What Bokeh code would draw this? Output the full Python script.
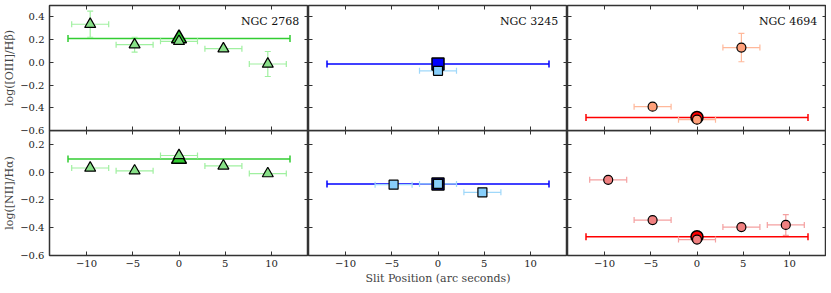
from bokeh.plotting import figure
from bokeh.layouts import gridplot
from bokeh.models import (ColumnDataSource, Whisker, TeeHead, LinearAxis, FixedTicker, Label)
from bokeh.embed import file_html
from bokeh.resources import INLINE

# ---------------- data ----------------
galaxies = ["NGC 2768", "NGC 3245", "NGC 4694"]

x_int = [0.0]
x_int_err = [12.0]
x_slit_err = 2.0

# NGC 2768
n2768_oiii_x = [-9.6, -4.8, 0.0, 4.8, 9.6]
n2768_oiii = [0.335, 0.155, 0.185, 0.12, -0.015]
n2768_oiii_err = [0.115, 0.065, 0.02, 0.015, 0.11]
n2768_nii_x = [-9.6, -4.8, 0.0, 4.8, 9.6]
n2768_nii = [0.03, 0.01, 0.12, 0.045, -0.01]
n2768_nii_err = [0.01, 0.01, 0.01, 0.01, 0.01]
n2768_int_oiii = [0.21]
n2768_int_nii = [0.095]

# NGC 3245
n3245_oiii_x = [0.0]
n3245_oiii = [-0.075]
n3245_oiii_err = [0.015]
n3245_nii_x = [-4.8, 0.0, 4.8]
n3245_nii = [-0.09, -0.085, -0.145]
n3245_nii_err = [0.015, 0.01, 0.02]
n3245_int_oiii = [-0.015]
n3245_int_nii = [-0.085]

# NGC 4694
n4694_oiii_x = [-4.8, 0.0, 4.8]
n4694_oiii = [-0.39, -0.505, 0.13]
n4694_oiii_err = [0.015, 0.015, 0.125]
n4694_nii_x = [-9.6, -4.8, 0.0, 4.8, 9.6]
n4694_nii = [-0.055, -0.345, -0.485, -0.395, -0.38]
n4694_nii_err = [0.015, 0.015, 0.015, 0.015, 0.075]
n4694_int_oiii = [-0.485]
n4694_int_nii = [-0.465]

x_ticks = [-10, -5, 0, 5, 10]
y_ticks_top = [-0.6, -0.4, -0.2, 0.0, 0.2, 0.4]
y_ticks_bot = [-0.6, -0.4, -0.2, 0.0, 0.2]
y_label_top = "log([OIII]/Hβ)"
y_label_bot = "log([NII]/Hα)"
x_label = "Slit Position (arc seconds)"

# ---------------- style ----------------
FONT = "DejaVu Serif"
marker = ["triangle", "square", "circle"]
light_fill = [["#88e088", "#88e088"], ["lightskyblue", "lightskyblue"], ["lightsalmon", "lightcoral"]]
light_err = [["#a0f0a0", "#a0f0a0"], ["#9fd8fa", "#9fd8fa"], ["#ffb89a", "#f4a0a0"]]
dark = ["limegreen", "blue", "red"]
small_size = [11, 9, 9]
big_size = [15, 12, 12]

rows = [
    [(n2768_oiii_x, n2768_oiii, n2768_oiii_err, n2768_int_oiii),
     (n3245_oiii_x, n3245_oiii, n3245_oiii_err, n3245_int_oiii),
     (n4694_oiii_x, n4694_oiii, n4694_oiii_err, n4694_int_oiii)],
    [(n2768_nii_x, n2768_nii, n2768_nii_err, n2768_int_nii),
     (n3245_nii_x, n3245_nii, n3245_nii_err, n3245_int_nii),
     (n4694_nii_x, n4694_nii, n4694_nii_err, n4694_int_nii)],
]
y_ranges = [(-0.6, 0.5), (-0.6, 0.3)]
y_ticks = [y_ticks_top, y_ticks_bot]
y_labels = [y_label_top, y_label_bot]

OVERLAP = 7


def fmt(v, dec):
    s = f"{v:.{dec}f}"
    return s.replace("-", "\u2212")


def style_axis(ax, ticks, dec, show_labels):
    ax.ticker = FixedTicker(ticks=ticks)
    ax.minor_tick_line_color = None
    ax.major_tick_in = 4
    ax.major_tick_out = 0
    ax.major_tick_line_color = "#333333"
    ax.axis_line_color = None
    if show_labels:
        ax.major_label_overrides = {t: fmt(t, dec) for t in ticks}
        ax.major_label_text_font = FONT
        ax.major_label_text_font_size = "10px"
        ax.major_label_text_color = "#222222"
        ax.major_label_standoff = 5
    else:
        ax.major_label_text_font_size = "0px"
        ax.major_label_text_color = None
        ax.major_label_standoff = 0


grid = []
for r in range(2):
    row_figs = []
    for c in range(3):
        p = figure(frame_width=259, frame_height=125, x_range=(-14, 14), y_range=y_ranges[r],
                   output_backend="svg", toolbar_location=None, min_border=0)
        p.min_border_left = 0
        p.min_border_right = 0
        p.min_border_top = 5 if r == 0 else 0
        p.min_border_bottom = OVERLAP if r == 0 else 0
        if r == 1:
            p.styles = {"transform": f"translateY(-{OVERLAP}px)"}
        else:
            p.styles = {"position": "relative", "z-index": "5"}
        p.xgrid.visible = False
        p.ygrid.visible = False
        p.outline_line_color = "#333333"
        p.outline_line_width = 1.5
        p.background_fill_color = "white"
        p.border_fill_color = None

        style_axis(p.xaxis[0], x_ticks, 0, r == 1)
        style_axis(p.yaxis[0], y_ticks[r], 1, c == 0)
        if c == 0:
            p.yaxis[0].axis_label = y_labels[r]
            p.yaxis[0].axis_label_text_font = FONT
            p.yaxis[0].axis_label_text_font_style = "normal"
            p.yaxis[0].axis_label_text_font_size = "11px"
            p.yaxis[0].axis_label_standoff = 1
        if r == 1:
            p.xaxis[0].major_label_standoff = 4
            # same axis-label extent on every bottom panel; only the middle one is shown
            p.xaxis[0].axis_label = x_label
            p.xaxis[0].axis_label_text_font = FONT
            p.xaxis[0].axis_label_text_font_style = "normal"
            p.xaxis[0].axis_label_text_font_size = "11px"
            p.xaxis[0].axis_label_standoff = 2
            if c != 1:
                p.xaxis[0].axis_label_text_color = None
        ra = LinearAxis()
        style_axis(ra, y_ticks[r], 1, False)
        p.add_layout(ra, "right")
        ta = LinearAxis()
        style_axis(ta, x_ticks, 0, False)
        p.add_layout(ta, "above")

        xs, ys, yerrs, yint = rows[r][c]
        # integrated measurement
        isrc = ColumnDataSource(dict(x=x_int, y=yint,
                                     xl=[a - e for a, e in zip(x_int, x_int_err)],
                                     xu=[a + e for a, e in zip(x_int, x_int_err)]))
        p.add_layout(Whisker(source=isrc, base="y", lower="xl", upper="xu", dimension="width",
                             line_color=dark[c], line_width=1.5,
                             upper_head=TeeHead(size=7, line_color=dark[c], line_width=1.5),
                             lower_head=TeeHead(size=7, line_color=dark[c], line_width=1.5)))
        # slit measurements
        src = ColumnDataSource(dict(x=xs, y=ys,
                                    xl=[a - x_slit_err for a in xs], xu=[a + x_slit_err for a in xs],
                                    yl=[a - e for a, e in zip(ys, yerrs)], yu=[a + e for a, e in zip(ys, yerrs)]))
        ec = light_err[c][r]
        p.add_layout(Whisker(source=src, base="y", lower="xl", upper="xu", dimension="width",
                             line_color=ec, line_width=1.2,
                             upper_head=TeeHead(size=6, line_color=ec, line_width=1.2),
                             lower_head=TeeHead(size=6, line_color=ec, line_width=1.2)))
        p.add_layout(Whisker(source=src, base="x", lower="yl", upper="yu", dimension="height",
                             line_color=ec, line_width=1.2,
                             upper_head=TeeHead(size=6, line_color=ec, line_width=1.2),
                             lower_head=TeeHead(size=6, line_color=ec, line_width=1.2)))
        p.scatter("x", "y", source=isrc, marker=marker[c], size=big_size[c],
                  fill_color=dark[c], line_color="black", line_width=1.5)
        p.scatter("x", "y", source=src, marker=marker[c], size=small_size[c],
                  fill_color=light_fill[c][r], line_color="black", line_width=1.2)
        if r == 0:
            p.add_layout(Label(x=13, y=0.355, text=galaxies[c], text_align="right",
                               text_baseline="middle", text_font=FONT, text_font_size="11px",
                               text_color="#111111"))
        row_figs.append(p)
    grid.append(row_figs)

layout = gridplot(grid, toolbar_location=None)

open("out.html", "w").write(file_html(layout, INLINE))
